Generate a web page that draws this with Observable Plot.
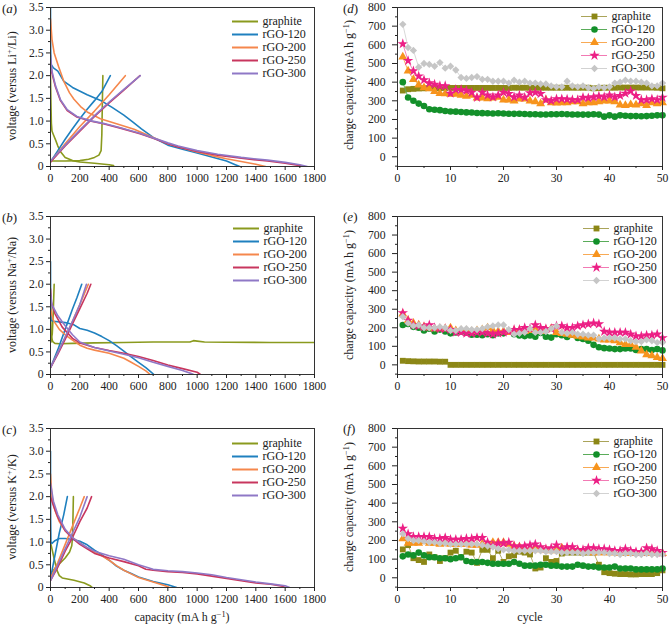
<!DOCTYPE html>
<html><head><meta charset="utf-8">
<script src="https://cdn.jsdelivr.net/npm/d3@7"></script>
<script src="https://cdn.jsdelivr.net/npm/@observablehq/plot@0.6"></script>
<style>
body{margin:0;background:#fff;}
#wrap{position:relative;width:670px;height:624px;font-family:"Liberation Serif","Times New Roman",serif;color:#222;overflow:hidden;}
.pan{position:absolute;}
.pan svg{max-width:none !important;}
.lab{position:absolute;font-size:12px;white-space:nowrap;line-height:1;}
.rot{transform:translate(-50%,-50%) rotate(-90deg);}
.ctr{transform:translate(-50%,-50%);}
.let{position:absolute;font-size:13px;white-space:nowrap;line-height:1;transform:translateY(-50%);}
sup{font-size:70%;vertical-align:0.45em;line-height:0;}
</style></head><body><div id="wrap"></div>
<script>
// ---------- categories & styles ----------
const series = ["graphite", "rGO-120", "rGO-200", "rGO-250", "rGO-300"];
const curveColors = ["#8a9a1e", "#1f80bf", "#f5874c", "#c8365e", "#8f78c6"];
const capColors = ["#8c8716", "#13902a", "#f7941d", "#ec1f85", "#c6c6c6"];
const capLineColors = ["#aaa45a", "#5aac5a", "#f8aa55", "#f27ab4", "#d2d2d2"];
const symbols = ["square", "circle", "triangle", "star", d3.symbolDiamond2 || "diamond"];
const cycles = d3.range(1, 51);

const capTicksX = [0, 200, 400, 600, 800, 1000, 1200, 1400, 1600, 1800];
const voltTicks = [0, 0.5, 1.0, 1.5, 2.0, 2.5, 3.0, 3.5];
const cycTicks = [0, 10, 20, 30, 40, 50];
const chargeTicks = [0, 100, 200, 300, 400, 500, 600, 700, 800];

// ---------- (a) Li voltage profiles [capacity, voltage] ----------
const liGraphiteDis = [[0,2.0],[3,1.4],[6,0.95],[10,0.78],[20,0.7],[35,0.58],[50,0.45],[70,0.32],[100,0.2],[150,0.13],[200,0.1],[300,0.07],[400,0.04],[430,0.02]];
const liGraphiteChg = [[0,0.12],[100,0.12],[200,0.13],[260,0.16],[300,0.2],[330,0.25],[345,0.35],[350,0.7],[353,1.3],[357,2.0]];
const liR120Dis = [[0,3.5],[1,2.6],[3,2.25],[20,2.17],[50,2.1],[90,1.88],[150,1.74],[250,1.58],[350,1.44],[420,1.3],[500,1.13],[560,0.98],[620,0.83],[700,0.64],[800,0.47],[900,0.38],[1000,0.3],[1100,0.21],[1200,0.12],[1260,0.04],[1290,0]];
const liR120Chg = [[0,0.1],[50,0.35],[100,0.6],[150,0.83],[200,1.05],[250,1.26],[300,1.45],[350,1.65],[408,2.0]];
const liR200Dis = [[0,3.25],[10,2.8],[25,2.5],[55,2.2],[90,1.88],[130,1.62],[160,1.48],[205,1.32],[250,1.2],[340,1.05],[450,0.94],[570,0.82],[700,0.64],[800,0.5],[900,0.41],[1000,0.32],[1100,0.24],[1200,0.17],[1300,0.11],[1400,0.05],[1466,0]];
const liR200Chg = [[0,0.1],[100,0.5],[200,0.88],[300,1.22],[400,1.58],[510,2.0]];
const liR250Dis = [[0,2.3],[10,2.05],[34,1.75],[68,1.45],[114,1.23],[180,1.09],[270,1.0],[360,0.94],[470,0.85],[610,0.72],[700,0.62],[800,0.5],[870,0.43],[1000,0.33],[1140,0.25],[1300,0.18],[1480,0.12],[1600,0.07],[1700,0.02],[1725,0]];
const liR250Chg = [[0,0.1],[100,0.45],[200,0.78],[300,1.1],[400,1.4],[500,1.68],[610,2.0]];
const liR300Dis = [[0,2.45],[10,2.1],[34,1.78],[68,1.47],[114,1.25],[180,1.1],[270,1.01],[360,0.95],[470,0.86],[610,0.73],[700,0.63],[800,0.52],[870,0.45],[1000,0.35],[1140,0.27],[1300,0.2],[1480,0.14],[1600,0.09],[1700,0.04],[1750,0]];
const liR300Chg = [[0,0.12],[100,0.47],[200,0.8],[300,1.12],[400,1.42],[500,1.7],[612,2.0]];

// ---------- (b) Na voltage profiles ----------
const naGraphiteDis = [[0,1.75],[2,1.2],[5,0.85],[15,0.73],[30,0.69],[60,0.68],[150,0.69],[300,0.7],[500,0.71],[700,0.72],[850,0.72],[950,0.72],[975,0.75],[1000,0.74],[1050,0.72],[1200,0.715],[1500,0.71],[1800,0.71]];
const naGraphiteChg = [[3,0.72],[12,0.9],[18,1.3],[22,1.7],[25,2.0]];
const naR120Dis = [[0,2.5],[1,1.5],[3,1.2],[20,1.18],[100,1.15],[160,1.1],[200,1.02],[250,0.98],[300,0.92],[350,0.84],[400,0.75],[450,0.64],[500,0.52],[550,0.39],[600,0.27],[650,0.15],[690,0.04],[705,0]];
const naR120Chg = [[0,0.15],[50,0.55],[100,1.0],[150,1.45],[180,1.7],[213,2.0]];
const naR200Dis = [[0,1.45],[20,1.2],[60,1.0],[100,0.88],[150,0.76],[200,0.65],[250,0.58],[300,0.54],[400,0.47],[500,0.36],[550,0.27],[600,0.18],[650,0.08],[680,0]];
const naR200Chg = [[0,0.15],[50,0.48],[100,0.82],[150,1.18],[200,1.55],[258,2.0]];
const naR250Dis = [[0,1.9],[5,1.6],[30,1.35],[80,1.05],[150,0.8],[200,0.7],[300,0.6],[400,0.53],[500,0.47],[600,0.4],[700,0.31],[800,0.21],[900,0.13],[1000,0.05],[1022,0]];
const naR250Chg = [[0,0.15],[50,0.45],[100,0.78],[150,1.12],[200,1.46],[250,1.8],[275,2.0]];
const naR300Dis = [[0,1.8],[10,1.55],[50,1.3],[100,1.08],[150,0.88],[200,0.72],[300,0.6],[400,0.52],[500,0.45],[600,0.37],[700,0.27],[800,0.18],[900,0.09],[960,0.02],[975,0]];
const naR300Chg = [[0,0.15],[50,0.48],[100,0.83],[150,1.18],[200,1.55],[245,2.0]];

// ---------- (c) K voltage profiles ----------
const kGraphiteDis = [[0,1.0],[10,0.85],[23,0.66],[35,0.5],[45,0.37],[60,0.26],[80,0.21],[160,0.16],[230,0.1],[270,0.04],[285,0]];
const kGraphiteChg = [[0,0.3],[30,0.42],[60,0.52],[100,0.65],[130,0.78],[145,0.92],[150,1.1],[153,1.5],[156,2.0]];
const kR120Dis = [[0,3.0],[1,1.5],[3,1.0],[10,0.97],[30,1.03],[60,1.08],[100,1.08],[150,1.06],[200,1.02],[250,0.94],[300,0.82],[350,0.72],[400,0.6],[450,0.47],[500,0.38],[550,0.31],[600,0.23],[700,0.13],[800,0.06],[860,0]];
const kR120Chg = [[0,0.2],[30,0.7],[60,1.2],[90,1.6],[115,2.0]];
const kR200Dis = [[0,2.5],[10,2.0],[30,1.7],[60,1.45],[100,1.25],[150,1.1],[200,0.98],[250,0.87],[300,0.77],[350,0.7],[400,0.6],[450,0.48],[500,0.38],[550,0.3],[600,0.22],[700,0.12],[800,0.02],[810,0]];
const kR200Chg = [[0,0.2],[50,0.55],[100,0.95],[150,1.35],[200,1.75],[230,2.0]];
const kR250Dis = [[0,2.0],[20,1.8],[50,1.55],[100,1.25],[150,1.08],[200,0.95],[250,0.85],[300,0.75],[400,0.65],[500,0.57],[600,0.48],[650,0.4],[700,0.38],[800,0.35],[900,0.33],[1000,0.3],[1100,0.25],[1200,0.2],[1300,0.15],[1400,0.1],[1500,0.07],[1580,0.03],[1600,0]];
const kR250Chg = [[0,0.15],[50,0.45],[100,0.8],[150,1.1],[200,1.45],[250,1.75],[280,2.0]];
const kR300Dis = [[0,2.3],[20,1.9],[50,1.6],[100,1.28],[150,1.1],[200,0.98],[250,0.88],[300,0.8],[400,0.7],[500,0.62],[600,0.5],[650,0.45],[700,0.4],[800,0.37],[900,0.35],[1000,0.32],[1100,0.28],[1200,0.22],[1300,0.17],[1400,0.12],[1500,0.08],[1600,0.04],[1630,0]];
const kR300Chg = [[0,0.15],[50,0.5],[100,0.85],[150,1.2],[200,1.55],[250,2.0]];

// ---------- (d) Li charge capacity per cycle ----------
const liCapGraphite = [355,362,364,366,367,368,368,368,369,369,369,369,369,369,369,369,369,369,369,369,369,370,370,370,370,370,370,370,370,370,370,370,370,370,370,370,367,368,370,370,370,371,371,371,371,371,371,371,370,367];
const liCap120 = [400,318,300,285,272,255,252,250,245,243,242,240,238,237,235,234,233,232,233,232,231,230,231,229,228,228,227,227,228,228,229,228,227,227,226,226,228,226,215,222,215,222,220,218,218,217,218,220,222,222];
const liCap200 = [535,460,415,385,370,365,350,340,338,335,335,330,325,330,315,315,312,315,320,305,305,300,310,310,300,295,285,305,290,288,290,290,295,295,285,290,290,295,300,300,295,278,275,280,278,285,275,290,285,290];
const liCap250 = [605,515,460,432,412,395,388,380,380,340,360,360,355,345,318,345,330,320,330,345,338,320,330,318,342,345,338,305,300,310,310,308,305,305,318,315,320,325,320,330,320,328,340,352,328,305,305,310,305,318];
const liCap300 = [710,585,570,480,500,495,485,505,475,485,465,425,420,425,430,415,415,405,405,405,395,410,400,405,395,395,390,390,380,375,375,405,380,375,380,370,365,375,370,375,395,400,410,405,405,400,395,380,380,395];

// ---------- (e) Na charge capacity per cycle ----------
const naCapGraphite = [22,20,19,18,18,18,18,17,17,0,0,0,0,0,0,0,0,0,0,0,0,0,0,0,0,0,0,0,0,0,0,0,0,0,0,0,0,0,0,0,0,0,0,0,0,0,0,0,0,0];
const naCap120 = [215,220,205,200,185,195,180,190,180,170,175,180,175,163,163,160,165,160,170,170,180,165,158,155,158,152,172,152,147,165,160,150,162,145,140,130,108,95,90,88,85,85,88,88,80,85,85,80,85,78];
const naCap200 = [275,240,225,215,205,200,195,195,195,200,185,185,185,180,185,190,200,185,180,180,175,185,185,180,185,190,180,190,195,175,170,165,160,155,150,145,145,140,135,135,130,120,110,110,95,75,55,50,40,35];
const naCap250 = [280,240,215,210,205,215,200,195,195,190,175,175,170,170,175,175,170,165,170,175,180,190,190,200,195,215,200,195,195,210,210,200,200,210,215,220,225,220,180,175,175,175,175,165,155,155,160,160,165,145];
const naCap300 = [260,225,210,215,200,200,200,205,200,185,185,195,195,190,190,195,205,210,215,215,190,165,170,175,195,175,175,180,195,210,175,170,175,165,165,160,160,140,145,145,145,140,140,130,125,125,135,130,120,120];

// ---------- (f) K charge capacity per cycle ----------
const kCapGraphite = [152,175,105,95,85,125,110,90,105,135,145,110,140,135,80,150,150,105,145,85,115,120,140,135,125,50,55,105,85,90,130,135,135,135,135,135,135,70,30,25,22,20,20,18,18,20,20,20,25,40];
const kCap120 = [115,125,120,135,120,110,110,105,105,100,105,110,90,85,85,85,80,75,75,75,75,85,75,65,65,65,70,70,65,65,60,60,60,70,65,60,60,55,55,55,60,50,50,50,45,45,45,45,45,50];
const kCap200 = [210,185,185,185,195,185,185,180,185,180,180,180,180,175,175,180,180,190,190,190,180,170,165,160,150,165,150,150,145,150,160,150,145,145,140,140,135,135,135,135,135,130,130,130,130,130,130,130,130,130];
const kCap250 = [265,235,220,220,220,220,210,210,215,205,205,205,210,210,215,215,190,175,185,185,190,170,165,170,175,180,165,155,160,175,155,165,165,150,150,160,160,155,155,150,145,145,155,145,140,140,160,155,145,135];
const kCap300 = [235,210,200,200,195,190,190,185,185,180,180,180,180,180,180,175,170,165,155,150,150,145,145,145,145,145,145,140,140,140,135,135,135,135,130,135,135,135,135,130,130,125,130,130,125,125,130,125,125,125];

// ---------- helpers ----------
const FONT = '"Liberation Serif","Times New Roman",serif';
const wrap = document.getElementById("wrap");
function place(node, left, top) {
  const d = document.createElement("div");
  d.className = "pan"; d.style.left = left + "px"; d.style.top = top + "px";
  d.style.width = node.getAttribute("width") + "px";
  node.style.maxWidth = "none";
  d.appendChild(node); wrap.appendChild(d);
}
function html(cls, left, top, content) {
  const d = document.createElement("div");
  d.className = cls; d.style.left = left + "px"; d.style.top = top + "px";
  d.innerHTML = content; wrap.appendChild(d);
}
const rowGeom = [
  {top: 0, mt: 7, mb: 42},
  {top: 208, mt: 8, mb: 42},
  {top: 416, mt: 12, mb: 37}
];

function axes(xT, xM, yT, yM, yFmt, yPad, ySize) {
  return [
    Plot.frame({stroke: "#333", strokeWidth: 1}),
    Plot.axisX(xT, {tickSize: 4, tickPadding: 3, tickFormat: d => String(d), label: null}),
    Plot.axisX(xM, {tickSize: 2, tickFormat: () => "", label: null}),
    Plot.axisY(yT, {tickSize: ySize, tickPadding: yPad, tickFormat: yFmt, label: null}),
    Plot.axisY(yM, {tickSize: 2, tickFormat: () => "", label: null})
  ];
}

function voltagePanel(row, curves) {
  const g = rowGeom[row];
  const marks = [];
  curves.forEach((pair, i) => {
    pair.forEach(pts => {
      marks.push(Plot.line(pts, {x: d => d[0], y: d => d[1], stroke: curveColors[i], strokeWidth: 1.6, clip: true}));
    });
  });
  const p = Plot.plot({
    width: 335, height: 208, marginTop: g.mt, marginBottom: g.mb, marginLeft: 50, marginRight: 21,
    style: {fontFamily: FONT, fontSize: "11.7px", color: "#222", background: "transparent", overflow: "visible"},
    x: {domain: [0, 1800]}, y: {domain: [0, 3.5]},
    marks: [...marks, ...axes(capTicksX, d3.range(100, 1800, 200), voltTicks, d3.range(0.25, 3.5, 0.5),
      d => d === 0 ? "0" : d.toFixed(1), 3, 4)]
  });
  place(p, 0, g.top);
}

function capacityPanel(row, vals) {
  const g = rowGeom[row];
  const marks = [];
  vals.forEach((arr, i) => {
    const rows = arr.map((v, j) => ({c: cycles[j], v}));
    marks.push(Plot.line(rows, {x: "c", y: "v", stroke: capLineColors[i], strokeWidth: 0.9}));
    marks.push(Plot.dot(rows, {x: "c", y: "v", symbol: symbols[i], fill: capColors[i], r: 3.3, stroke: "none"}));
  });
  const p = Plot.plot({
    width: 335, height: 208, marginTop: g.mt, marginBottom: g.mb, marginLeft: 62, marginRight: 8,
    style: {fontFamily: FONT, fontSize: "11.7px", color: "#222", background: "transparent", overflow: "visible"},
    x: {domain: [0, 50]}, y: {domain: [-52, 800]},
    marks: [...marks, ...axes(cycTicks, d3.range(5, 50, 10), chargeTicks, d3.range(-50, 800, 100),
      d => String(d), 7, 5)]
  });
  place(p, 335, g.top);
}

function legendPlot(lineColors, markColors, withMarkers) {
  const marks = [];
  series.forEach((s, i) => {
    marks.push(Plot.ruleY([s], {y: d => d, x1: () => 0, x2: () => 1, stroke: lineColors[i], strokeWidth: withMarkers ? 1 : 2}));
    if (withMarkers) marks.push(Plot.dot([s], {x: () => 0.5, y: d => d, symbol: symbols[i], fill: markColors[i], r: 3.3}));
    marks.push(Plot.text([s], {x: () => 1, y: d => d, text: d => d, dx: 4, textAnchor: "start", fill: "#222"}));
  });
  return Plot.plot({
    width: 88, height: 68, marginTop: 7, marginBottom: 7, marginLeft: 2, marginRight: 60,
    style: {fontFamily: FONT, fontSize: "12px", color: "#222", background: "transparent", overflow: "visible"},
    x: {domain: [0, 1], axis: null}, y: {type: "point", domain: series, padding: 0, axis: null},
    marks
  });
}

// ---------- draw panels ----------
voltagePanel(0, [[liGraphiteDis, liGraphiteChg], [liR120Dis, liR120Chg], [liR200Dis, liR200Chg], [liR250Dis, liR250Chg], [liR300Dis, liR300Chg]]);
voltagePanel(1, [[naGraphiteDis, naGraphiteChg], [naR120Dis, naR120Chg], [naR200Dis, naR200Chg], [naR250Dis, naR250Chg], [naR300Dis, naR300Chg]]);
voltagePanel(2, [[kGraphiteDis, kGraphiteChg], [kR120Dis, kR120Chg], [kR200Dis, kR200Chg], [kR250Dis, kR250Chg], [kR300Dis, kR300Chg]]);
capacityPanel(0, [liCapGraphite, liCap120, liCap200, liCap250, liCap300]);
capacityPanel(1, [naCapGraphite, naCap120, naCap200, naCap250, naCap300]);
capacityPanel(2, [kCapGraphite, kCap120, kCap200, kCap250, kCap300]);

// legends
place(legendPlot(curveColors, curveColors, false), 230, 13);
place(legendPlot(curveColors, curveColors, false), 231, 220);
place(legendPlot(curveColors, curveColors, false), 230, 435);
place(legendPlot(capLineColors, capColors, true), 579, 8);
place(legendPlot(capLineColors, capColors, true), 581, 220);
place(legendPlot(capLineColors, capColors, true), 581, 433);

// panel letters
html("let", 2, 8, "(<i>a</i>)");
html("let", 2, 217, "(<i>b</i>)");
html("let", 2, 429, "(<i>c</i>)");
html("let", 343, 8, "(<i>d</i>)");
html("let", 343, 216, "(<i>e</i>)");
html("let", 343, 428, "(<i>f</i>)");

// axis titles
html("lab rot", 12, 86, "voltage (versus Li<sup>+</sup>/Li)");
html("lab rot", 12, 295, "voltage (versus Na<sup>+</sup>/Na)");
html("lab rot", 12, 507, "voltage (versus K<sup>+</sup>/K)");
html("lab rot", 349, 85, "charge capacity (mA h g<sup>−1</sup>)");
html("lab rot", 349, 295, "charge capacity (mA h g<sup>−1</sup>)");
html("lab rot", 349, 507, "charge capacity (mA h g<sup>−1</sup>)");
html("lab ctr", 182, 617, "capacity (mA h g<sup>−1</sup>)");
html("lab ctr", 530, 617, "cycle");
</script></body></html>
